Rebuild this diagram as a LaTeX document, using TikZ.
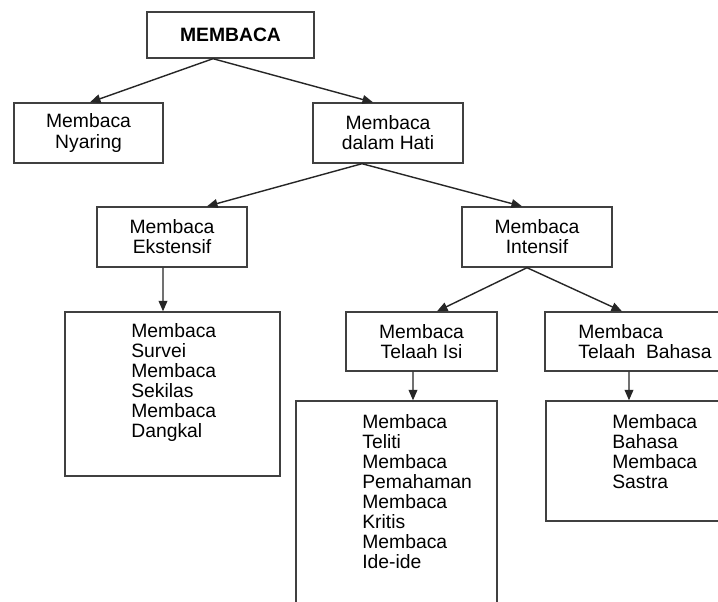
\documentclass[tikz,border=0pt]{standalone}
\usepackage{fontspec}
\setmainfont{Liberation Sans}
\usetikzlibrary{arrows.meta}
\tikzstyle{box}=[draw=black!75, line width=0.8pt, rectangle, inner sep=0pt, align=center, font=\fontsize{11}{11.4}\selectfont]
\tikzstyle{listtext}=[inner sep=0pt, anchor=north west, align=left, font=\fontsize{11}{11.4}\selectfont]
\tikzstyle{link}=[draw=black!85, line width=0.8pt, -{Triangle[length=6pt,width=5pt]}]

\begin{document}
\begin{tikzpicture}[x=0.02cm, y=-0.02cm]
          \useasboundingbox (0,0) rectangle (718,602);
          \clip (0,0) rectangle (718,602);
          \fill[white] (0,0) rectangle (718,602);
          % top levels
          \node[box, minimum width=3.34cm, minimum height=0.92cm, font=\fontsize{11}{11.4}\selectfont\bfseries]
            (membaca) at (230.5,35) {MEMBACA};
          \node[box, minimum width=2.98cm, minimum height=1.2cm]
            (nyaring) at (88.5,133) {Membaca\\Nyaring};
          \node[box, minimum width=3cm, minimum height=1.2cm]
            (hati) at (388,133) {Membaca\\dalam Hati};
          \node[box, minimum width=3cm, minimum height=1.2cm]
            (ekstensif) at (172,237) {Membaca\\Ekstensif};
          \node[box, minimum width=3cm, minimum height=1.2cm]
            (intensif) at (537,237) {Membaca\\Intensif};
          \node[box, minimum width=3.02cm, minimum height=1.18cm]
            (telaahisi) at (421.5,341.5) {Membaca\\Telaah Isi};
          \node[box, minimum width=3.6cm, minimum height=1.18cm]
            (telaahbahasa) at (635,341.5) {};
          \node[listtext, anchor=west] (telaahbahasa-text) at (578,341.5) {Membaca\\Telaah\ \ Bahasa};
          % lists
          \node[box, minimum width=4.3cm, minimum height=3.28cm]
            (elist) at (172.5,394) {};
          \node[listtext] (elist-text) at (131,323)
            {Membaca\\Survei\\Membaca\\Sekilas\\Membaca\\Dangkal};
          \node[box, minimum width=4.02cm, minimum height=4.78cm]
            (ilist) at (396.5,520.5) {};
          \node[listtext] (ilist-text) at (362,414)
            {Membaca\\Teliti\\Membaca\\Pemahaman\\Membaca\\Kritis\\Membaca\\Ide-ide};
          \node[box, minimum width=3.68cm, minimum height=2.4cm]
            (blist) at (638,461) {};
          \node[listtext] (blist-text) at (612,414)
            {Membaca\\Bahasa\\Membaca\\Sastra};
          % links
          \draw[link] ([xshift=-0.35cm]membaca.south) -- ([xshift=0.03cm]nyaring.north);
          \draw[link] ([xshift=-0.35cm]membaca.south) -- ([xshift=-0.3cm]hati.north);
          \draw[link] ([xshift=-0.52cm]hati.south) -- ([xshift=0.7cm]ekstensif.north);
          \draw[link] ([xshift=-0.52cm]hati.south) -- ([xshift=-0.3cm]intensif.north);
          \draw[link] ([xshift=-0.18cm]ekstensif.south) -- ([xshift=-0.19cm]elist.north);
          \draw[link] ([xshift=-0.2cm]intensif.south) -- ([xshift=0.31cm]telaahisi.north);
          \draw[link] ([xshift=-0.2cm]intensif.south) -- ([xshift=-0.26cm]telaahbahasa.north);
          \draw[link] ([xshift=-0.17cm]telaahisi.south) -- ([xshift=0.33cm]ilist.north);
          \draw[link] ([xshift=-0.12cm]telaahbahasa.south) -- ([xshift=-0.18cm]blist.north);
        \end{tikzpicture}
\end{document}
